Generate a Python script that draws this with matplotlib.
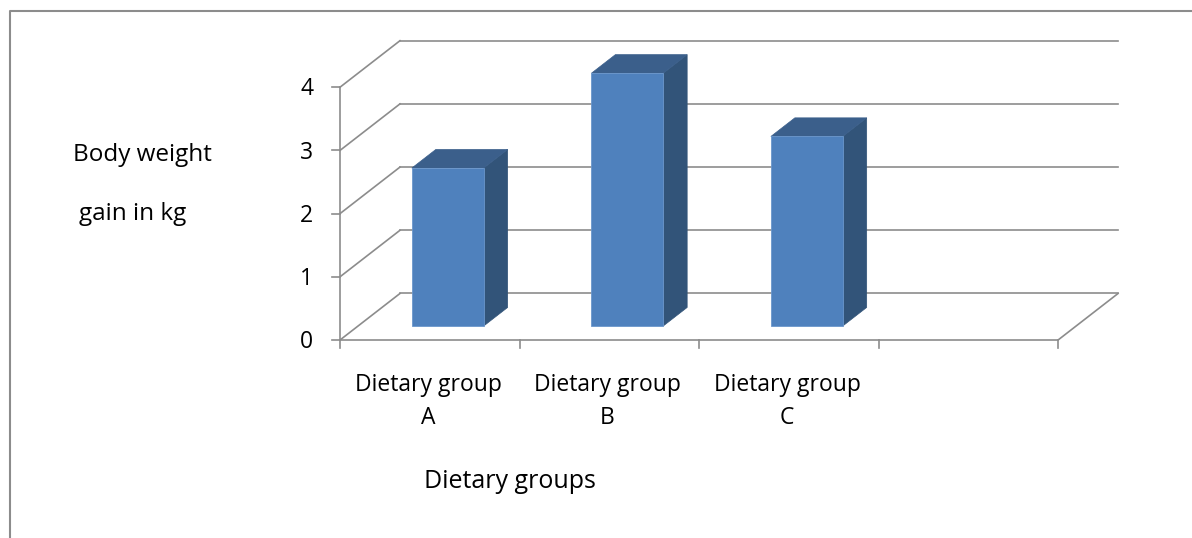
import matplotlib.pyplot as plt
from matplotlib.patches import Polygon

# 体重增长数据
groups = ['Dietary group\nA', 'Dietary group\nB', 'Dietary group\nC']
gain = [2.5, 4.0, 3.0]
y_ticks = [0, 1, 2, 3, 4]
n_slots = 4

# 斜投影: 深度方向每单位对应的 x / y 偏移 (数据单位)
DX, DY = 0.334, 0.736
D0, D1 = 0.30, 0.70      # 柱子前后面的深度
BAR_W = 0.40

FRONT = '#4F81BD'
SIDE = '#325479'
TOP = '#3B5F8B'
GRID = '#8C8C8C'


def proj(x, y, d):
    return x + d * DX, y + d * DY


plt.rcParams['font.family'] = ['Open Sans', 'DejaVu Sans']

fig = plt.figure(figsize=(11.92, 5.38), dpi=100)
ax = fig.add_axes([0, 0, 1, 1])
ax.set_xlim(-1.894, 4.746)
ax.set_ylim(-3.133, 5.380)
ax.axis('off')

# 背景墙和侧墙网格线
for v in y_ticks:
    bx0, by0 = proj(0, v, 1)
    bx1, by1 = proj(n_slots, v, 1)
    ax.plot([bx0, bx1], [by0, by1], color=GRID, lw=1.2, zorder=1)
    ax.plot([0, bx0], [v, by0], color=GRID, lw=1.2, zorder=1)
    ax.plot([0, -0.045], [v, v], color=GRID, lw=1.2, zorder=1)
    ax.text(-0.150, v - 0.13, str(v), ha='right', va='baseline', fontsize=16.5, color='black')

# 地面和纵轴
fx, fy = proj(n_slots, 0, 1)
ax.plot([0, n_slots, fx], [0, 0, fy], color=GRID, lw=1.2, zorder=1)
ax.plot([0, 0], [0, y_ticks[-1]], color=GRID, lw=1.2, zorder=1)
for i in range(n_slots + 1):
    ax.plot([i, i], [0, -0.127], color=GRID, lw=1.2, zorder=1)

# 三维柱子
for i, h in enumerate(gain):
    x0 = i + 0.5 - BAR_W / 2
    x1 = i + 0.5 + BAR_W / 2
    front = [proj(x0, 0, D0), proj(x1, 0, D0), proj(x1, h, D0), proj(x0, h, D0)]
    side = [proj(x1, 0, D0), proj(x1, 0, D1), proj(x1, h, D1), proj(x1, h, D0)]
    top = [proj(x0, h, D0), proj(x1, h, D0), proj(x1, h, D1), proj(x0, h, D1)]
    ax.add_patch(Polygon(side, closed=True, facecolor=SIDE, edgecolor=SIDE, lw=0.5, zorder=3))
    ax.add_patch(Polygon(top, closed=True, facecolor=TOP, edgecolor=TOP, lw=0.5, zorder=3))
    ax.add_patch(Polygon(front, closed=True, facecolor=FRONT, edgecolor='#6B97CC', lw=0.6, zorder=4))

# 分类标签
for i, g in enumerate(groups):
    ax.text(i + 0.49, -0.53, g, ha='center', va='top', fontsize=16.5,
            linespacing=1.5, color='black')

ax.text(0.947, -2.342, 'Dietary groups', ha='center', va='baseline', fontsize=18, color='black')
ax.text(-1.489, 2.832, 'Body weight', ha='left', va='baseline', fontsize=17.5, color='black')
ax.text(-1.454, 1.899, 'gain in kg', ha='left', va='baseline', fontsize=17.5, color='black')

# 图表区边框
ax.plot([0.008, 0.008, 1.0], [0.0, 0.979, 0.979], transform=ax.transAxes,
        color='#8C8C8C', lw=1.5, clip_on=False)

plt.savefig('out.png', dpi=100)
